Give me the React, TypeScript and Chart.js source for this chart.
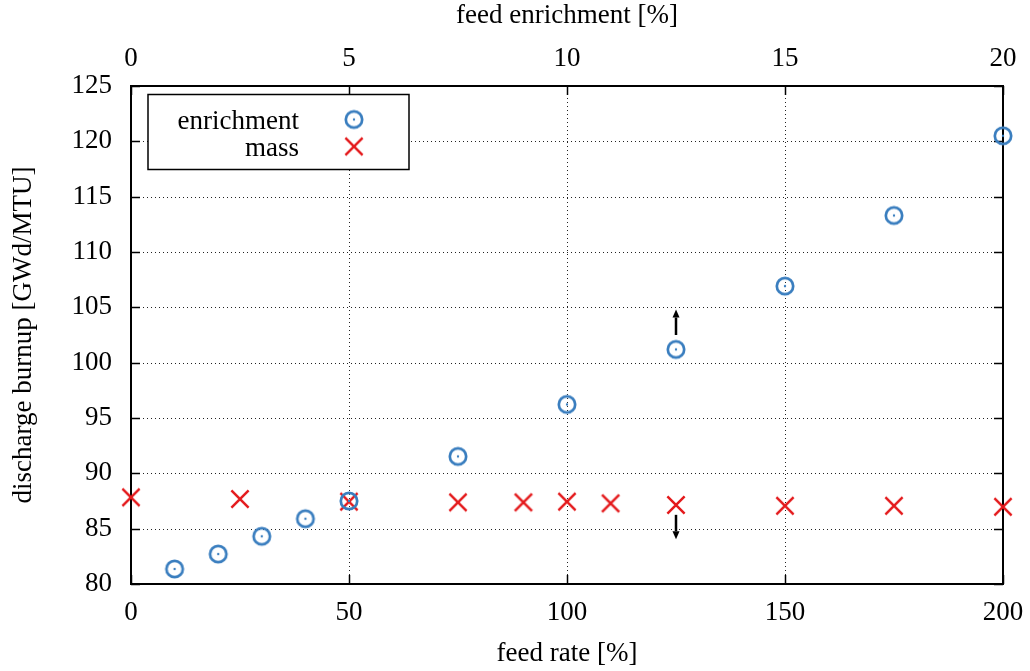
import React, { useEffect, useRef } from 'react';
import { Chart, registerables } from 'chart.js';

Chart.register(...registerables);

const FONT_FAMILY = "'Liberation Serif', 'Times New Roman', serif";
const FONT_SIZE = 27;

// bottom axis: feed rate [%]
const feedRate = [0, 25, 50, 75, 90, 100, 110, 125, 150, 175, 200];
const massBurnup = [87.83, 87.68, 87.44, 87.38, 87.38, 87.44, 87.29, 87.14, 87.07, 87.07, 86.98];

// top axis: feed enrichment [%]
const feedEnrichment = [1, 2, 3, 4, 5, 7.5, 10, 12.5, 15, 17.5, 20];
const enrichmentBurnup = [81.36, 82.71, 84.31, 85.9, 87.5, 91.53, 96.23, 101.2, 106.92, 113.3, 120.5];

const rateTicks = [0, 50, 100, 150, 200];
const enrichTicks = [0, 5, 10, 15, 20];
const burnupTicks = [80, 85, 90, 95, 100, 105, 110, 115, 120, 125];

// arrows (bottom-axis x value, from -> to burnup value)
const arrowUp = { x: 125, from: 102.5, to: 104.8 };
const arrowDown = { x: 125, from: 86.25, to: 84.05 };

const BLUE = '#3a7ebf';
const RED = '#e41a1c';

function makeCircle(): HTMLCanvasElement {
  const c = document.createElement('canvas');
  c.width = 24; c.height = 24;
  const g = c.getContext('2d')!;
  g.strokeStyle = BLUE;
  g.lineWidth = 2.7;
  g.beginPath();
  g.arc(12, 12, 8.2, 0, Math.PI * 2);
  g.stroke();
  g.fillStyle = BLUE;
  g.beginPath();
  g.arc(12, 12, 1.2, 0, Math.PI * 2);
  g.fill();
  return c;
}

function makeCross(): HTMLCanvasElement {
  const c = document.createElement('canvas');
  c.width = 24; c.height = 24;
  const g = c.getContext('2d')!;
  g.strokeStyle = RED;
  g.lineWidth = 2.5;
  const h = 8.6;
  g.beginPath();
  g.moveTo(12 - h, 12 - h); g.lineTo(12 + h, 12 + h);
  g.moveTo(12 + h, 12 - h); g.lineTo(12 - h, 12 + h);
  g.stroke();
  return c;
}

function drawArrow(ctx: CanvasRenderingContext2D, x: number, y0: number, y1: number) {
  const dir = y1 < y0 ? -1 : 1;
  const head = 8;
  ctx.save();
  ctx.strokeStyle = '#000';
  ctx.fillStyle = '#000';
  ctx.lineWidth = 2.5;
  ctx.beginPath();
  ctx.moveTo(x, y0);
  ctx.lineTo(x, y1 - dir * head);
  ctx.stroke();
  ctx.beginPath();
  ctx.moveTo(x, y1);
  ctx.lineTo(x - 3.5, y1 - dir * head);
  ctx.lineTo(x + 3.5, y1 - dir * head);
  ctx.closePath();
  ctx.fill();
  ctx.restore();
}

export default function App() {
  const ref = useRef<HTMLCanvasElement>(null);

  useEffect(() => {
    const canvas = ref.current!;
    const circleImg = makeCircle();
    const crossImg = makeCross();
    const font = { family: FONT_FAMILY, size: FONT_SIZE };

    const framePlugin = {
      id: 'gnuplotFrame',
      beforeDatasetsDraw(chart: any) {
        const { ctx, chartArea: a, scales } = chart;
        const sx = scales.x, sx2 = scales.x2, sy = scales.y;
        ctx.save();
        // dotted grid
        ctx.strokeStyle = '#222';
        ctx.lineWidth = 1;
        ctx.setLineDash([1, 3]);
        burnupTicks.slice(1, -1).forEach((v) => {
          const y = Math.round(sy.getPixelForValue(v)) + 0.5;
          ctx.beginPath();
          ctx.moveTo(a.left, y);
          ctx.lineTo(a.right, y);
          ctx.stroke();
        });
        rateTicks.slice(1, -1).forEach((v) => {
          const x = Math.round(sx.getPixelForValue(v)) + 0.5;
          ctx.beginPath();
          ctx.moveTo(x, a.top);
          ctx.lineTo(x, a.bottom);
          ctx.stroke();
        });
        ctx.setLineDash([]);
        // inward ticks
        ctx.strokeStyle = '#000';
        ctx.lineWidth = 1.5;
        const tl = 9;
        burnupTicks.forEach((v) => {
          const y = Math.round(sy.getPixelForValue(v)) + 0.5;
          ctx.beginPath();
          ctx.moveTo(a.left, y); ctx.lineTo(a.left + tl, y);
          ctx.moveTo(a.right, y); ctx.lineTo(a.right - tl, y);
          ctx.stroke();
        });
        rateTicks.forEach((v) => {
          const x = Math.round(sx.getPixelForValue(v)) + 0.5;
          ctx.beginPath();
          ctx.moveTo(x, a.bottom); ctx.lineTo(x, a.bottom - tl);
          ctx.stroke();
        });
        enrichTicks.forEach((v) => {
          const x = Math.round(sx2.getPixelForValue(v)) + 0.5;
          ctx.beginPath();
          ctx.moveTo(x, a.top); ctx.lineTo(x, a.top + tl);
          ctx.stroke();
        });
        // border
        ctx.lineWidth = 2;
        ctx.strokeRect(a.left, a.top, a.right - a.left, a.bottom - a.top);
        ctx.restore();
      },
      afterDatasetsDraw(chart: any) {
        const { ctx, chartArea: a, scales } = chart;
        const sx = scales.x, sy = scales.y;
        drawArrow(ctx, sx.getPixelForValue(arrowUp.x), sy.getPixelForValue(arrowUp.from), sy.getPixelForValue(arrowUp.to));
        drawArrow(ctx, sx.getPixelForValue(arrowDown.x), sy.getPixelForValue(arrowDown.from), sy.getPixelForValue(arrowDown.to));

        // legend box
        const bx = a.left + 17, by = a.top + 8.5, bw = 261, bh = 75;
        ctx.save();
        ctx.fillStyle = '#fff';
        ctx.fillRect(bx, by, bw, bh);
        ctx.strokeStyle = '#000';
        ctx.lineWidth = 1.5;
        ctx.strokeRect(bx, by, bw, bh);
        ctx.fillStyle = '#000';
        ctx.font = `${FONT_SIZE}px ${FONT_FAMILY}`;
        ctx.textAlign = 'right';
        ctx.textBaseline = 'alphabetic';
        const labels = chart.data.datasets.map((d: any) => d.label);
        const imgs = [circleImg, crossImg];
        const rows = [by + 34, by + 61];
        const markY = [by + 25, by + 52];
        labels.forEach((lab: string, i: number) => {
          ctx.fillText(lab, bx + 151, rows[i]);
          const img = imgs[i];
          ctx.drawImage(img, bx + 206 - img.width / 2, markY[i] - img.height / 2);
        });
        ctx.restore();
      },
    };

    const noPad = (s: any) => { s.paddingLeft = 0; s.paddingRight = 0; };

    const chart = new Chart(canvas, {
      type: 'scatter',
      data: {
        datasets: [
          {
            label: 'enrichment',
            data: feedEnrichment.map((x, i) => ({ x, y: enrichmentBurnup[i] })),
            xAxisID: 'x2',
            yAxisID: 'y',
            pointStyle: circleImg,
            pointRadius: 8,
            clip: false,
          },
          {
            label: 'mass',
            data: feedRate.map((x, i) => ({ x, y: massBurnup[i] })),
            xAxisID: 'x',
            yAxisID: 'y',
            pointStyle: crossImg,
            pointRadius: 8,
            clip: false,
          },
        ],
      },
      options: {
        responsive: false,
        animation: false,
        devicePixelRatio: 1,
        events: [],
        layout: { padding: { right: 27, left: 0, top: 0, bottom: 0 } },
        plugins: {
          legend: { display: false },
          tooltip: { enabled: false },
        },
        scales: {
          x: {
            type: 'linear',
            position: 'bottom',
            min: 0,
            max: 200,
            afterBuildTicks: (s: any) => { s.ticks = rateTicks.map((v) => ({ value: v })); },
            afterFit: (s: any) => { s.height = 87; noPad(s); },
            grid: { display: false, drawTicks: false },
            border: { display: false },
            ticks: { font, color: '#000', padding: 13, maxRotation: 0, autoSkip: false },
            title: { display: true, text: 'feed rate [%]', font, color: '#000', padding: { top: 0, bottom: 0.5 } },
          },
          x2: {
            type: 'linear',
            position: 'top',
            min: 0,
            max: 20,
            afterBuildTicks: (s: any) => { s.ticks = enrichTicks.map((v) => ({ value: v })); },
            afterFit: (s: any) => { s.height = 86; noPad(s); },
            grid: { display: false, drawTicks: false },
            border: { display: false },
            ticks: { font, color: '#000', padding: 11, maxRotation: 0, autoSkip: false },
            title: { display: true, text: 'feed enrichment [%]', font, color: '#000', padding: { top: 0, bottom: 0 } },
          },
          y: {
            type: 'linear',
            position: 'left',
            min: 80,
            max: 125,
            afterBuildTicks: (s: any) => { s.ticks = burnupTicks.map((v) => ({ value: v })); },
            afterFit: (s: any) => { s.width = 131; s.paddingTop = 0; s.paddingBottom = 0; },
            grid: { display: false, drawTicks: false },
            border: { display: false },
            ticks: { font, color: '#000', padding: 19, autoSkip: false },
            title: { display: true, text: 'discharge burnup [GWd/MTU]', font, color: '#000', padding: { top: 8, bottom: 0 } },
          },
        },
      },
      plugins: [framePlugin],
    } as any);

    return () => chart.destroy();
  }, []);

  return (
    <canvas
      ref={ref}
      width={1030}
      height={671}
      style={{ position: 'absolute', left: 0, top: 0, display: 'block' }}
    />
  );
}
